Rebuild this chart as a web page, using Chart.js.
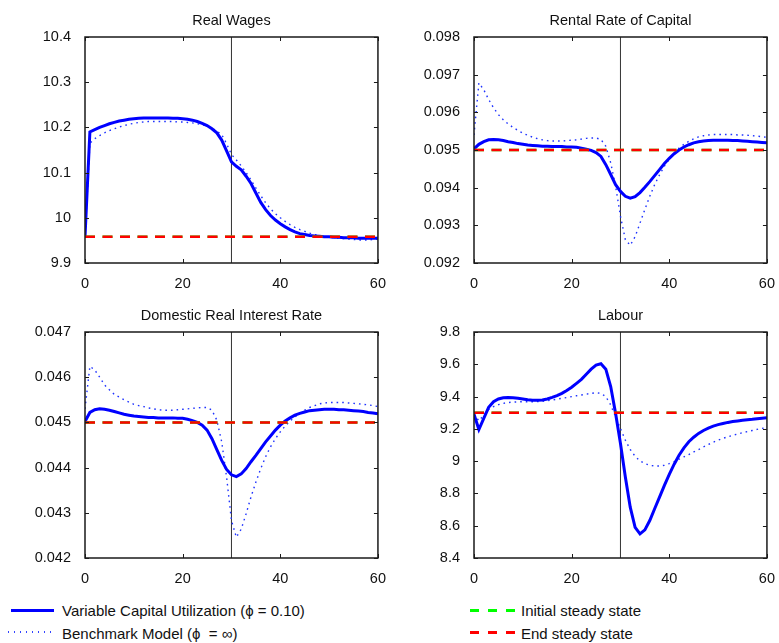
<!DOCTYPE html>
<html>
<head>
<meta charset="utf-8">
<script src="https://cdn.jsdelivr.net/npm/chart.js@4.4.0/dist/chart.umd.min.js"></script>
<style>
  body { margin: 0; background: #fff; width: 779px; height: 643px; position: relative; overflow: hidden;
         font-family: "Liberation Sans", Arial, Helvetica, sans-serif; }
  canvas { position: absolute; }
  .lbl { position: absolute; font-size: 15px; line-height: 17px; color: #111; white-space: nowrap; }
  .smp { position: absolute; }
</style>
</head>
<body>
<canvas id="wages" width="390" height="290" style="left:0;top:0"></canvas>
<canvas id="rental" width="390" height="290" style="left:389px;top:0"></canvas>
<canvas id="interest" width="390" height="290" style="left:0;top:295px"></canvas>
<canvas id="labour" width="390" height="290" style="left:389px;top:295px"></canvas>

<div class="smp" style="left:11px;top:608.5px;width:43px;height:3px;background:#0000ff"></div>
<div class="lbl" style="left:62px;top:602px">Variable Capital Utilization (ϕ = 0.10)</div>
<div class="smp" style="left:8px;top:631px;width:46px;height:2px;background:repeating-linear-gradient(90deg,#3344ff 0 1.5px,transparent 1.5px 6px)"></div>
<div class="lbl" style="left:62px;top:624.7px">Benchmark Model (ϕ&nbsp; = ∞)</div>

<div class="smp" style="left:470px;top:608.5px;width:45px;height:3px;background:repeating-linear-gradient(90deg,#00ff00 0 9px,transparent 9px 18px)"></div>
<div class="lbl" style="left:521px;top:602px">Initial steady state</div>
<div class="smp" style="left:470px;top:630.5px;width:45px;height:3px;background:repeating-linear-gradient(90deg,#ff0000 0 9px,transparent 9px 18px)"></div>
<div class="lbl" style="left:521px;top:624.7px">End steady state</div>

<script>
const periods = [0,1,2,3,4,5,6,7,8,9,10,11,12,13,14,15,16,17,18,19,20,
  21,22,23,24,25,26,27,28,29,30,31,32,33,34,35,36,37,38,39,40,
  41,42,43,44,45,46,47,48,49,50,51,52,53,54,55,56,57,58,59,60];
const xTicks = [0, 20, 40, 60];
const shockPeriod = 30;

// Real Wages
const wagesVar = [9.957,10.190,10.195,10.200,10.204,10.208,10.211,10.214,10.216,10.218,10.219,
  10.220,10.221,10.221,10.221,10.221,10.221,10.221,10.220,10.220,10.219,
  10.218,10.216,10.213,10.209,10.204,10.197,10.188,10.172,10.148,10.124,
  10.114,10.106,10.092,10.076,10.055,10.034,10.018,10.005,9.995,9.987,
  9.980,9.974,9.969,9.965,9.963,9.961,9.960,9.959,9.958,9.958,
  9.957,9.957,9.956,9.956,9.956,9.955,9.955,9.955,9.955,9.955];
const wagesBench = [9.957,10.165,10.175,10.182,10.188,10.193,10.197,10.201,10.204,10.207,10.209,
  10.211,10.212,10.213,10.213,10.213,10.213,10.213,10.213,10.212,10.212,
  10.211,10.210,10.208,10.206,10.203,10.198,10.192,10.184,10.164,10.140,
  10.128,10.115,10.100,10.084,10.066,10.049,10.033,10.020,10.009,10.000,
  9.992,9.985,9.979,9.974,9.970,9.966,9.963,9.961,9.959,9.957,
  9.956,9.955,9.954,9.953,9.952,9.951,9.951,9.951,9.952,9.953];
const wagesSS = 9.958;
const wagesTicks = [9.9, 10, 10.1, 10.2, 10.3, 10.4];

// Rental Rate of Capital
const rentalVar = [0.09503,0.09515,0.09522,0.09527,0.09528,0.09527,0.09525,0.09522,0.09520,0.09517,0.09515,
  0.09513,0.09512,0.09511,0.09510,0.09510,0.09509,0.09509,0.09509,0.09508,0.09508,
  0.09507,0.09505,0.09502,0.09499,0.09493,0.09483,0.09461,0.09435,0.09408,0.09390,
  0.09377,0.09372,0.09376,0.09387,0.09401,0.09416,0.09432,0.09448,0.09464,0.09478,
  0.09490,0.09500,0.09508,0.09514,0.09519,0.09522,0.09524,0.09525,0.09526,0.09526,
  0.09526,0.09526,0.09525,0.09525,0.09524,0.09523,0.09522,0.09521,0.09520,0.09519];
const rentalBench = [0.09540,0.09678,0.09660,0.09634,0.09612,0.09594,0.09580,0.09569,0.09560,0.09552,0.09545,
  0.09539,0.09534,0.09530,0.09527,0.09525,0.09524,0.09524,0.09524,0.09525,0.09526,
  0.09527,0.09529,0.09531,0.09532,0.09532,0.09528,0.09510,0.09466,0.09404,0.09324,
  0.09262,0.09247,0.09270,0.09306,0.09342,0.09377,0.09408,0.09434,0.09457,0.09476,
  0.09492,0.09505,0.09515,0.09523,0.09530,0.09535,0.09538,0.09540,0.09541,0.09541,
  0.09541,0.09541,0.09541,0.09540,0.09540,0.09539,0.09538,0.09537,0.09535,0.09534];
const rentalSS = 0.095;
const rentalTicks = [0.092, 0.093, 0.094, 0.095, 0.096, 0.097, 0.098];

// Domestic Real Interest Rate
const interestVar = [0.04502,0.04522,0.04528,0.04530,0.04529,0.04527,0.04524,0.04521,0.04518,0.04516,0.04514,
  0.04513,0.04512,0.04511,0.04511,0.04510,0.04510,0.04510,0.04510,0.04509,0.04509,
  0.04507,0.04504,0.04500,0.04494,0.04483,0.04464,0.04440,0.04416,0.04396,0.04384,
  0.04380,0.04386,0.04398,0.04413,0.04427,0.04442,0.04457,0.04470,0.04483,0.04494,
  0.04503,0.04510,0.04516,0.04520,0.04523,0.04526,0.04527,0.04528,0.04529,0.04529,
  0.04529,0.04528,0.04528,0.04527,0.04526,0.04525,0.04524,0.04522,0.04521,0.04519];
const interestBench = [0.04530,0.04624,0.04616,0.04600,0.04583,0.04572,0.04562,0.04556,0.04550,0.04545,0.04540,
  0.04537,0.04535,0.04532,0.04530,0.04528,0.04527,0.04527,0.04527,0.04528,0.04529,
  0.04530,0.04531,0.04532,0.04533,0.04533,0.04527,0.04505,0.04457,0.04379,0.04283,
  0.04246,0.04264,0.04298,0.04335,0.04368,0.04398,0.04424,0.04446,0.04464,0.04479,
  0.04492,0.04503,0.04512,0.04520,0.04527,0.04533,0.04537,0.04541,0.04543,0.04544,
  0.04544,0.04544,0.04544,0.04543,0.04542,0.04541,0.04540,0.04539,0.04537,0.04535];
const interestSS = 0.045;
const interestTicks = [0.042, 0.043, 0.044, 0.045, 0.046, 0.047];

// Labour
const labourVar = [9.290,9.196,9.265,9.333,9.368,9.385,9.393,9.395,9.393,9.389,9.385,
  9.380,9.377,9.377,9.379,9.385,9.395,9.406,9.420,9.438,9.458,
  9.482,9.507,9.538,9.570,9.595,9.603,9.570,9.462,9.296,9.109,
  8.902,8.715,8.590,8.549,8.574,8.632,8.705,8.777,8.850,8.918,
  8.981,9.037,9.082,9.120,9.148,9.172,9.190,9.205,9.217,9.226,
  9.233,9.240,9.245,9.249,9.253,9.256,9.259,9.263,9.266,9.269];
const labourBench = [9.290,9.250,9.285,9.320,9.338,9.350,9.358,9.363,9.366,9.367,9.368,
  9.368,9.368,9.369,9.370,9.374,9.379,9.384,9.389,9.394,9.400,
  9.405,9.410,9.415,9.420,9.424,9.420,9.400,9.348,9.275,9.202,
  9.130,9.072,9.030,9.001,8.985,8.974,8.970,8.970,8.974,8.985,
  8.997,9.012,9.027,9.041,9.057,9.072,9.088,9.103,9.117,9.130,
  9.141,9.151,9.160,9.168,9.176,9.183,9.190,9.197,9.203,9.209];
const labourSS = 9.3;
const labourTicks = [8.4, 8.6, 8.8, 9, 9.2, 9.4, 9.6, 9.8];

const fontFamily = '"Liberation Sans", Arial, Helvetica, sans-serif';
const tickFont = { family: fontFamily, size: 14.5 };

// matlab style box with inward ticks and the title above it
const boxPlugin = {
  id: 'box',
  afterDatasetsDraw(chart) {
    const { ctx, chartArea: a, scales } = chart;
    ctx.save();
    ctx.strokeStyle = '#1a1a1a';
    ctx.lineWidth = 1.5;
    ctx.strokeRect(a.left, a.top, a.right - a.left, a.bottom - a.top);
    ctx.lineWidth = 1;
    ctx.beginPath();
    scales.y.ticks.forEach(t => {
      const y = Math.round(scales.y.getPixelForValue(t.value)) + 0.5;
      ctx.moveTo(a.left, y); ctx.lineTo(a.left + 4, y);
      ctx.moveTo(a.right, y); ctx.lineTo(a.right - 4, y);
    });
    scales.x.ticks.forEach(t => {
      const x = Math.round(scales.x.getPixelForValue(t.value)) + 0.5;
      ctx.moveTo(x, a.bottom); ctx.lineTo(x, a.bottom - 4);
      ctx.moveTo(x, a.top); ctx.lineTo(x, a.top + 4);
    });
    ctx.stroke();
    ctx.fillStyle = '#111';
    ctx.font = '14.5px ' + fontFamily;
    ctx.textAlign = 'center';
    ctx.textBaseline = 'alphabetic';
    ctx.fillText(chart.options.panelTitle, (a.left + a.right) / 2, 24.5);
    ctx.restore();
  }
};

function fmt(v) {
  return String(parseFloat(Number(v).toFixed(5)));
}

function makePanel(id, title, yTicks, varData, benchData, ss) {
  const pts = arr => arr.map((v, i) => ({ x: periods[i], y: v }));
  const flat = v => [{ x: periods[0], y: v }, { x: periods[periods.length - 1], y: v }];
  const yMin = yTicks[0];
  const yMax = yTicks[yTicks.length - 1];
  new Chart(document.getElementById(id), {
    type: 'line',
    data: {
      datasets: [
        { label: 'End steady state', data: flat(ss), borderColor: '#ff0000', borderWidth: 2.5, borderDash: [10, 7.5] },
        { label: 'Initial steady state', data: flat(ss), borderColor: '#00ff00', borderWidth: 2.5, borderDash: [10, 7.5] },
        { label: 'Variable Capital Utilization', data: pts(varData), borderColor: '#0000ff', borderWidth: 3 },
        { label: 'Benchmark Model', data: pts(benchData), borderColor: '#1f33ff', borderWidth: 1.4, borderDash: [1.6, 4] },
        { label: 'shock', data: [{ x: shockPeriod, y: yMin }, { x: shockPeriod, y: yMax }], borderColor: '#333', borderWidth: 1 }
      ]
    },
    options: {
      panelTitle: title,
      responsive: false,
      animation: false,
      events: [],
      layout: { padding: { top: 37, right: 9, left: 0, bottom: 0 } },
      elements: { point: { radius: 0 }, line: { tension: 0, fill: false } },
      plugins: { legend: { display: false }, tooltip: { enabled: false }, title: { display: false } },
      scales: {
        x: {
          type: 'linear', min: 0, max: 60,
          grid: { display: false }, border: { display: false },
          afterBuildTicks: s => { s.ticks = xTicks.map(v => ({ value: v })); },
          afterFit: s => { s.height = 27; },
          ticks: { font: tickFont, color: '#111', padding: 4, maxRotation: 0, autoSkip: false }
        },
        y: {
          type: 'linear', min: yMin, max: yMax,
          grid: { display: false }, border: { display: false },
          afterBuildTicks: s => { s.ticks = yTicks.map(v => ({ value: v })); },
          afterFit: s => { s.width = 85; },
          ticks: { font: tickFont, color: '#111', padding: 6, autoSkip: false, callback: v => fmt(v) }
        }
      }
    },
    plugins: [boxPlugin]
  });
}

makePanel('wages', 'Real Wages', wagesTicks, wagesVar, wagesBench, wagesSS);
makePanel('rental', 'Rental Rate of Capital', rentalTicks, rentalVar, rentalBench, rentalSS);
makePanel('interest', 'Domestic Real Interest Rate', interestTicks, interestVar, interestBench, interestSS);
makePanel('labour', 'Labour', labourTicks, labourVar, labourBench, labourSS);
</script>
</body>
</html>
